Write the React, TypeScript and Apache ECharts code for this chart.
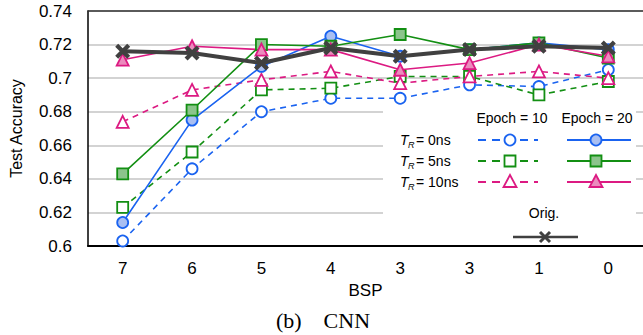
import React, { useEffect, useRef } from "react";
import * as echarts from "echarts";

const categories = ["7", "6", "5", "4", "3", "3", "1", "0"];
const yTicks = [0.6, 0.62, 0.64, 0.66, 0.68, 0.7, 0.72, 0.74];

const tr0Epoch10 = [0.603, 0.646, 0.68, 0.688, 0.688, 0.696, 0.695, 0.705];
const tr5Epoch10 = [0.623, 0.656, 0.693, 0.694, 0.701, 0.701, 0.69, 0.698];
const tr10Epoch10 = [0.674, 0.693, 0.699, 0.704, 0.697, 0.701, 0.704, 0.7];
const tr0Epoch20 = [0.614, 0.675, 0.707, 0.725, 0.713, 0.717, 0.721, 0.717];
const tr5Epoch20 = [0.643, 0.681, 0.72, 0.719, 0.726, 0.717, 0.721, 0.712];
const tr10Epoch20 = [0.711, 0.719, 0.717, 0.717, 0.705, 0.709, 0.72, 0.713];
const original = [0.716, 0.715, 0.709, 0.718, 0.713, 0.717, 0.719, 0.718];

const BLUE = "#1a63f0";
const GREEN = "#138f13";
const PINK = "#dc1a82";
const BLUE_L = "#a9bff2";
const GREEN_L = "#8cc48c";
const PINK_L = "#eb8bbd";
const GRAY = "#404040";
const XSYM = "path://M2,0 L5,3 L8,0 L10,2 L7,5 L10,8 L8,10 L5,7 L2,10 L0,8 L3,5 L0,2 Z";

export default function App() {
  const ref = useRef<HTMLDivElement>(null);
  useEffect(() => {
    if (!ref.current) return;
    const chart = echarts.init(ref.current, null, { renderer: "svg" });
    const font = "Liberation Sans, Arial, sans-serif";

    const dashed = (name: string, data: number[], color: string, symbol: string, size: number) => ({
      name,
      type: "line",
      data,
      symbol,
      symbolSize: size,
      z: 3,
      lineStyle: { color, width: 1.6, type: [6, 5] },
      itemStyle: { color: "#ffffff", borderColor: color, borderWidth: 1.8 },
    });
    const solid = (name: string, data: number[], color: string, fill: string, symbol: string, size: number) => ({
      name,
      type: "line",
      data,
      symbol,
      symbolSize: size,
      z: 4,
      lineStyle: { color, width: 1.6 },
      itemStyle: { color: fill, borderColor: color, borderWidth: 1.8 },
    });

    const rows = [
      { y: 140, label: "= 0ns", color: BLUE, fill: BLUE_L, shape: "circle" },
      { y: 161, label: "= 5ns", color: GREEN, fill: GREEN_L, shape: "rect" },
      { y: 182, label: "= 10ns", color: PINK, fill: PINK_L, shape: "tri" },
    ];
    const marker = (shape: string, cx: number, cy: number, color: string, fill: string) => {
      const style = { fill, stroke: color, lineWidth: 1.8 };
      if (shape === "circle") return { type: "circle", shape: { cx, cy, r: 5.5 }, style, z: 102 };
      if (shape === "rect") return { type: "rect", shape: { x: cx - 5.5, y: cy - 5.5, width: 11, height: 11 }, style, z: 102 };
      return {
        type: "polygon",
        shape: { points: [[cx, cy - 7], [cx + 6.5, cy + 5], [cx - 6.5, cy + 5]] },
        style,
        z: 102,
      };
    };
    const legendEls: any[] = [
      { type: "rect", shape: { x: 383, y: 100, width: 253, height: 142 }, style: { fill: "#ffffff" }, z: 1 },
      { type: "text", x: 512, y: 118, style: { text: "Epoch = 10", fill: "#000", font: `14px ${font}`, align: "center", verticalAlign: "middle" }, z: 100 },
      { type: "text", x: 597, y: 118, style: { text: "Epoch = 20", fill: "#000", font: `14px ${font}`, align: "center", verticalAlign: "middle" }, z: 100 },
      { type: "text", x: 544, y: 213, style: { text: "Orig.", fill: "#000", font: `14px ${font}`, align: "center", verticalAlign: "middle" }, z: 100 },
      { type: "line", shape: { x1: 513, y1: 237, x2: 578, y2: 237 }, style: { stroke: GRAY, lineWidth: 2.5 }, z: 100 },
      { type: "line", shape: { x1: 540, y1: 232, x2: 550, y2: 242 }, style: { stroke: GRAY, lineWidth: 3 }, z: 101 },
      { type: "line", shape: { x1: 550, y1: 232, x2: 540, y2: 242 }, style: { stroke: GRAY, lineWidth: 3 }, z: 101 },
    ];
    rows.forEach((r) => {
      legendEls.push(
        { type: "text", x: 400, y: r.y, style: { text: "T", fill: "#000", font: `italic 14px ${font}`, verticalAlign: "middle" }, z: 100 },
        { type: "text", x: 408, y: r.y + 5, style: { text: "R", fill: "#000", font: `italic 9px ${font}`, verticalAlign: "middle" }, z: 100 },
        { type: "text", x: 416, y: r.y, style: { text: r.label, fill: "#000", font: `14px ${font}`, verticalAlign: "middle" }, z: 100 },
        { type: "line", shape: { x1: 478, y1: r.y, x2: 538, y2: r.y }, style: { stroke: r.color, lineWidth: 1.8, lineDash: [8, 6] }, z: 100 },
        marker(r.shape, 510, r.y, r.color, "#ffffff"),
        { type: "line", shape: { x1: 567, y1: r.y, x2: 631, y2: r.y }, style: { stroke: r.color, lineWidth: 1.8 }, z: 100 },
        marker(r.shape, 596, r.y, r.color, r.fill)
      );
    });
    legendEls.push({
      type: "text",
      x: 323,
      y: 320,
      style: { text: "(b)    CNN", fill: "#000", font: "22px Liberation Serif, Times New Roman, serif", align: "center", verticalAlign: "middle" },
    });

    chart.setOption({
      animation: false,
      backgroundColor: "#ffffff",
      grid: { left: 86, top: 11, width: 560, height: 235, containLabel: false },
      xAxis: [
        {
          type: "category",
          data: categories,
          boundaryGap: true,
          name: "BSP",
          nameLocation: "middle",
          nameGap: 34,
          nameTextStyle: { color: "#000", fontSize: 17, fontFamily: font },
          axisLine: { lineStyle: { color: "#000", width: 2 } },
          axisTick: { show: false },
          axisLabel: { color: "#000", fontSize: 17, fontFamily: font, margin: 14 },
        },
        {
          type: "category",
          data: categories,
          position: "top",
          axisLine: { lineStyle: { color: "#333", width: 1.5 } },
          axisTick: { show: false },
          axisLabel: { show: false },
        },
      ],
      yAxis: {
        type: "value",
        min: 0.6,
        max: 0.74,
        interval: 0.02,
        name: "Test Accuracy",
        nameLocation: "middle",
        nameGap: 64,
        nameTextStyle: { color: "#000", fontSize: 16, fontFamily: font },
        axisLine: { show: true, lineStyle: { color: "#000", width: 1.5 } },
        axisTick: { show: false },
        axisLabel: {
          color: "#000",
          fontSize: 17,
          fontFamily: font,
          margin: 16,
          formatter: (v: number) => {
            const t = yTicks.find((x) => Math.abs(x - v) < 1e-6);
            return String(+(t ?? v).toFixed(2));
          },
        },
        splitLine: { show: true, lineStyle: { color: "#c4c4c4", width: 1.5 } },
      },
      graphic: legendEls,
      series: [
        dashed("TR=0ns Epoch=10", tr0Epoch10, BLUE, "circle", 11),
        dashed("TR=5ns Epoch=10", tr5Epoch10, GREEN, "rect", 11),
        dashed("TR=10ns Epoch=10", tr10Epoch10, PINK, "triangle", 12),
        solid("TR=0ns Epoch=20", tr0Epoch20, BLUE, BLUE_L, "circle", 11),
        solid("TR=5ns Epoch=20", tr5Epoch20, GREEN, GREEN_L, "rect", 11),
        solid("TR=10ns Epoch=20", tr10Epoch20, PINK, PINK_L, "triangle", 12),
        {
          name: "Orig.",
          type: "line",
          data: original,
          symbol: XSYM,
          symbolSize: 15,
          z: 5,
          lineStyle: { color: GRAY, width: 4 },
          itemStyle: { color: GRAY },
        },
      ],
    });
    return () => chart.dispose();
  }, []);
  return (
    <div
      ref={ref}
      style={{ position: "absolute", left: 0, top: 0, width: 643, height: 335, background: "#fff" }}
    />
  );
}
